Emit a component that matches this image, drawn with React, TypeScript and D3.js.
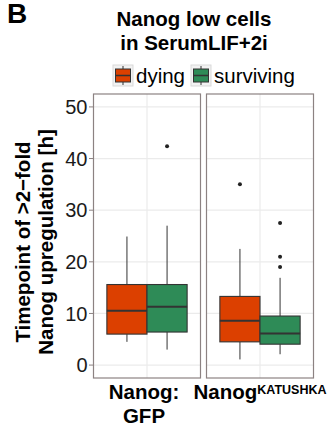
import React from 'react';
import * as d3 from 'd3';

// groups on the x axis (one panel each)
const groups = ['Nanog:GFP', 'NanogKATUSHKA'];
const statuses = ['dying', 'surviving'];

// box stats per group: [lower whisker, q1, median, q3, upper whisker]
const dyingStats = [
  [4.5, 6.0, 10.5, 15.6, 24.9],
  [1.1, 4.5, 8.6, 13.3, 22.5],
];
const survivingStats = [
  [3.0, 6.4, 11.3, 15.6, 27.0],
  [2.1, 4.05, 6.1, 9.5, 16.9],
];
const dyingOutliers = [[], [35.0]];
const survivingOutliers = [[42.4], [27.5, 21.0, 19.0]];

const yTicks = [0, 10, 20, 30, 40, 50];

const width = 330;
const height = 429;
const font = 'Liberation Sans, Arial, Helvetica, sans-serif';
const colors = { dying: '#DC4000', surviving: '#2E8B57' };

export default function App() {
  const y = d3.scaleLinear().domain([-2.5, 52.5]).range([378, 94]);

  const panel = d3.scaleBand<string>()
    .domain(groups)
    .range([93.5, 313.5])
    .paddingInner(6 / 113)
    .paddingOuter(0);
  const pw = panel.bandwidth();

  const series = [
    { key: 'dying', stats: dyingStats, out: dyingOutliers },
    { key: 'surviving', stats: survivingStats, out: survivingOutliers },
  ];

  return (
    <div style={{ position: 'absolute', left: 0, top: 0 }}>
      <svg width={width} height={height} style={{ display: 'block', background: '#fff' }} fontFamily={font}>
        <text x={7} y={23} fontSize={28} fontWeight="bold">B</text>

        {/* title */}
        <text x={194} y={26} textAnchor="middle" fontSize={20.5} fontWeight="bold">Nanog low cells</text>
        <text x={194} y={50} textAnchor="middle" fontSize={20.5} fontWeight="bold">in SerumLIF+2i</text>

        {/* legend */}
        {statuses.map((s, i) => {
          const kx = i === 0 ? 113 : 191;
          const ky = 65;
          return (
            <g key={s}>
              <rect x={kx} y={ky} width={20} height={21} fill="#F2F2F2" stroke="#D9D9D9" strokeWidth={1} />
              <line x1={kx + 10} x2={kx + 10} y1={ky + 1} y2={ky + 20} stroke="#333" strokeWidth={1} />
              <rect x={kx + 2.5} y={ky + 4} width={15} height={13} fill={colors[s]} stroke="#333" strokeWidth={1} />
              <line x1={kx + 2.5} x2={kx + 17.5} y1={ky + 10.5} y2={ky + 10.5} stroke="#333" strokeWidth={1.5} />
              <text x={kx + 23} y={83} fontSize={20.5}>{s}</text>
            </g>
          );
        })}

        {/* panels */}
        {groups.map((g, gi) => {
          const x0 = panel(g)!;
          const cx = x0 + pw / 2;
          const inner = d3.scaleBand<string>().domain(statuses).range([cx - pw * 0.375, cx + pw * 0.375]);
          const bw = inner.bandwidth();
          return (
            <g key={g}>
              <rect x={x0} y={94} width={pw} height={284} fill="#fff" />
              {yTicks.map(t => (
                <line key={t} x1={x0} x2={x0 + pw} y1={y(t)} y2={y(t)} stroke="#EBEBEB" strokeWidth={1.2} />
              ))}
              <line x1={cx} x2={cx} y1={94} y2={378} stroke="#EBEBEB" strokeWidth={1.2} />
              {series.map(se => {
                const [lo, q1, med, q3, hi] = se.stats[gi];
                const bx = inner(se.key)!;
                const mx = bx + bw / 2;
                return (
                  <g key={se.key}>
                    <line x1={mx} x2={mx} y1={y(hi)} y2={y(q3)} stroke="#333" strokeWidth={1} />
                    <line x1={mx} x2={mx} y1={y(q1)} y2={y(lo)} stroke="#333" strokeWidth={1} />
                    <rect x={bx} y={y(q3)} width={bw} height={y(q1) - y(q3)} fill={colors[se.key]} stroke="#333" strokeWidth={1.1} />
                    <line x1={bx} x2={bx + bw} y1={y(med)} y2={y(med)} stroke="#333" strokeWidth={2} />
                    {se.out[gi].map((o, oi) => (
                      <circle key={oi} cx={mx} cy={y(o)} r={2} fill="#222" />
                    ))}
                  </g>
                );
              })}
              <rect x={x0} y={94} width={pw} height={284} fill="none" stroke="#8C8282" strokeWidth={1.2} />
            </g>
          );
        })}

        {/* y axis */}
        {yTicks.map(t => (
          <g key={t}>
            <line x1={89} x2={93.5} y1={y(t)} y2={y(t)} stroke="#8C8282" strokeWidth={1} />
            <text x={87.5} y={y(t)} dy="0.36em" textAnchor="end" fontSize={20} fill="#1a1a1a">{t}</text>
          </g>
        ))}
        <text transform="translate(30,242) rotate(-90)" textAnchor="middle" fontSize={20.5} fontWeight="bold">Timepoint of &gt;2−fold</text>
        <text transform="translate(53,242) rotate(-90)" textAnchor="middle" fontSize={20.5} fontWeight="bold">Nanog upregulation [h]</text>

        {/* x labels */}
        <text x={144} y={399} textAnchor="middle" fontSize={20.5} fontWeight="bold">Nanog:</text>
        <text x={144} y={423} textAnchor="middle" fontSize={20.5} fontWeight="bold">GFP</text>
        <text x={panel(groups[1])! + pw / 2} y={399} textAnchor="middle" fontWeight="bold">
          <tspan fontSize={20.5}>Nanog</tspan>
          <tspan fontSize={12.5} dy={-5}>KATUSHKA</tspan>
        </text>
      </svg>
    </div>
  );
}
